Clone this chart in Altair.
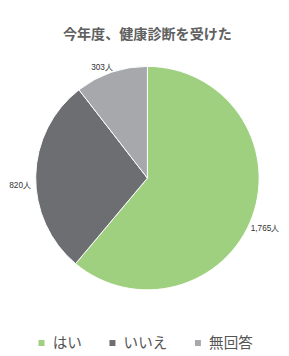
import altair as alt
import pandas as pd

categories = ["はい", "いいえ", "無回答"]
values = [1765, 820, 303]
labels = ["1,765人", "820人", "303人"]
colors = ["#9fd07f", "#6d6e72", "#a7a8ac"]
aligns = ["left", "right", "center"]

df = pd.DataFrame({"cat": categories, "val": values, "label": labels,
                   "order": [0, 1, 2], "align": aligns})

base = alt.Chart(df).transform_window(
    cum="sum(val)", sort=[alt.SortField("order")], frame=[None, 0]
).transform_joinaggregate(total="sum(val)").transform_calculate(
    start="(datum.cum - datum.val) / datum.total",
    end="datum.cum / datum.total",
    mid="(datum.cum - datum.val / 2) / datum.total",
)

tscale = alt.Scale(domain=[0, 1])

pie = base.mark_arc(outerRadius=115, stroke="white", strokeWidth=1).encode(
    theta=alt.Theta("start:Q", scale=tscale),
    theta2="end:Q",
    color=alt.Color(
        "cat:N",
        scale=alt.Scale(domain=categories, range=colors),
        sort=categories,
        legend=alt.Legend(
            orient="none",
            legendX=20,
            legendY=290,
            direction="horizontal",
            title=None,
            symbolType="square",
            symbolSize=38,
            labelFontSize=15,
            labelColor="#555555",
            labelFont="Noto Sans CJK JP",
            labelOffset=4,
            columnPadding=23,
            symbolStrokeWidth=0,
        ),
    ),
)

# (align, radius, theta offset in radians)
label_specs = [("left", 118, 0.10), ("right", 120, -0.08), ("center", 123, -0.06)]
layers = [pie]
for a, r, off in label_specs:
    layers.append(
        base.transform_filter(alt.datum.align == a)
        .mark_text(radius=r, thetaOffset=off, fontSize=8.5, color="#333333",
                   font="Liberation Sans", align=a, baseline="middle")
        .encode(theta=alt.Theta("mid:Q", scale=tscale), text="label:N")
    )

chart = alt.layer(*layers).properties(
    width=273,
    height=256,
    padding={"top": 14, "left": 0, "right": 0, "bottom": 0},
    autosize=alt.AutoSizeParams(type="pad"),
    title=alt.TitleParams(
        "今年度、健康診断を受けた",
        fontSize=14.5,
        color="#606060",
        font="Noto Sans CJK JP",
        fontWeight="bold",
        offset=12,
    ),
).configure_view(stroke=None)

chart.save("out.html", embed_options={"renderer": "svg", "actions": False})
